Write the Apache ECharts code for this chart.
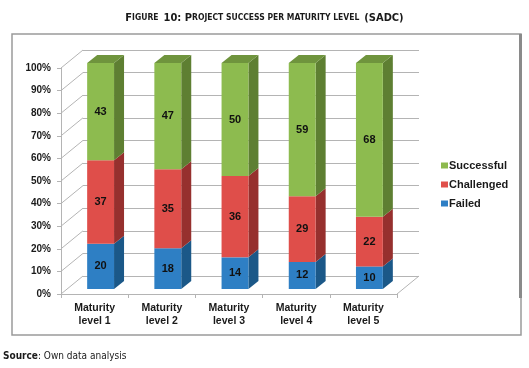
<!DOCTYPE html>
<html>
<head>
<meta charset="utf-8">
<script src="https://cdn.jsdelivr.net/npm/echarts@6/dist/echarts.min.js"></script>
<style>html,body{margin:0;padding:0;background:#fff;}#c{width:529px;height:368px;}</style>
</head>
<body>
<div id="c"></div>
<script>
// ---- data ----
const categories = ['Maturity\nlevel 1', 'Maturity\nlevel 2', 'Maturity\nlevel 3', 'Maturity\nlevel 4', 'Maturity\nlevel 5'];
const failed = [20, 18, 14, 12, 10];
const challenged = [37, 35, 36, 29, 22];
const successful = [43, 47, 50, 59, 68];
const yTicks = [0, 10, 20, 30, 40, 50, 60, 70, 80, 90, 100];
const seriesNames = ['Failed', 'Challenged', 'Successful'];

// ---- style ----
const FONT = '"Liberation Sans", Arial, sans-serif';
const NARROW = '"Liberation Sans Narrow", "Arial Narrow", "DejaVu Sans Condensed", "Liberation Sans", sans-serif';
const WALL_DX = 22, WALL_DY = -18;     // depth of the 3D box
const BAR_OFF_X = 6, BAR_OFF_Y = -5;   // bar position in depth
const BAR_DX = 10, BAR_DY = -8;        // bar depth
const BAR_FRAC = 0.40;
const colors = {
  Failed:     { front: '#2E7FC4', side: '#1B5888', top: '#2468A3', legend: '#2E7FC5' },
  Challenged: { front: '#DF4E4A', side: '#96302E', top: '#B83C39', legend: '#E0504B' },
  Successful: { front: '#8DBB4F', side: '#5E7F32', top: '#6F943D', legend: '#8DB94E' }
};

const values = { Failed: failed, Challenged: challenged, Successful: successful };
const bases = { Failed: [], Challenged: [], Successful: [] };
categories.forEach((c, i) => {
  let acc = 0;
  seriesNames.forEach(n => { bases[n][i] = acc; acc += values[n][i]; });
});

function barRender(name, drawTop) {
  const col = colors[name];
  return function (params, api) {
    const i = api.value(0), base = api.value(1), val = api.value(2);
    const pb = api.coord([i, base]);
    const pt = api.coord([i, base + val]);
    const bw = api.size([1, 0])[0] * BAR_FRAC;
    const x0 = pb[0] - bw / 2 + BAR_OFF_X, x1 = x0 + bw;
    const yb = pb[1] + BAR_OFF_Y, yt = pt[1] + BAR_OFF_Y;
    const children = [
      { type: 'polygon', shape: { points: [[x1, yb], [x1 + BAR_DX, yb + BAR_DY], [x1 + BAR_DX, yt + BAR_DY], [x1, yt]] }, style: { fill: col.side } },
      { type: 'rect', shape: { x: x0, y: yt, width: bw, height: yb - yt }, style: { fill: col.front } }
    ];
    if (drawTop) {
      children.push({ type: 'polygon', shape: { points: [[x0, yt], [x1, yt], [x1 + BAR_DX, yt + BAR_DY], [x0 + BAR_DX, yt + BAR_DY]] }, style: { fill: col.top } });
    }
    children.push({ type: 'text', style: { text: String(val), x: (x0 + x1) / 2, y: (yb + yt) / 2, align: 'center', verticalAlign: 'middle', fill: '#111', font: 'bold 11px ' + FONT } });
    return { type: 'group', children };
  };
}

function wallRender(params, api) {
  const v = api.value(0);
  const p = api.coord([0, v]);
  const cw = api.size([1, 0])[0];
  const xl = p[0] - cw / 2;
  const children = [
    { type: 'line', shape: { x1: xl, y1: p[1], x2: xl + WALL_DX, y2: p[1] + WALL_DY }, style: { stroke: '#b4b4b4', lineWidth: 1 } }
  ];
  if (v === 0) {
    const pr = api.coord([categories.length - 1, v]);
    const xr = pr[0] + cw / 2;
    children.push({ type: 'line', shape: { x1: xr, y1: p[1], x2: xr + WALL_DX, y2: p[1] + WALL_DY }, style: { stroke: '#b4b4b4', lineWidth: 1 } });
  }
  return { type: 'group', children };
}

const chart = echarts.init(document.getElementById('c'), null, { renderer: 'canvas' });

const gridFront = { left: 61, right: 132, top: 68, bottom: 74 };
const gridBack = { left: 61 + WALL_DX, right: 132 - WALL_DX, top: 68 + WALL_DY, bottom: 74 - WALL_DY };

const barSeries = seriesNames.map((n, k) => ({
  name: n,
  type: 'custom',
  xAxisIndex: 0, yAxisIndex: 0,
  itemStyle: { color: colors[n].legend },
  encode: { x: 0, y: 2 },
  renderItem: barRender(n, k === seriesNames.length - 1),
  data: categories.map((c, i) => [i, bases[n][i], values[n][i]]),
  z: 10 + k
}));

chart.setOption({
  animation: false,
  title: {
    text: '{b|F}{s|IGURE} {b|10: P}{s|ROJECT SUCCESS PER MATURITY LEVEL} {b|(SADC)}',
    left: 'center', top: 4,
    textStyle: {
      rich: {
        b: { fontSize: 11, fontWeight: 'bold', fontFamily: NARROW, color: '#1a1a1a' },
        s: { fontSize: 8.5, fontWeight: 'bold', fontFamily: NARROW, color: '#1a1a1a' }
      }
    }
  },
  legend: {
    orient: 'vertical', left: 436, top: 155,
    data: ['Successful', 'Challenged', 'Failed'],
    icon: 'rect', itemWidth: 7, itemHeight: 6, itemGap: 8,
    textStyle: { fontFamily: FONT, fontWeight: 'bold', fontSize: 11, color: '#1a1a1a', padding: [0, 0, 0, -4] }
  },
  grid: [
    Object.assign({}, gridFront),
    Object.assign({}, gridBack)
  ],
  xAxis: [
    {
      type: 'category', gridIndex: 0, data: categories,
      axisLine: { show: true, lineStyle: { color: '#b4b4b4' } },
      axisTick: { show: true, length: 4, lineStyle: { color: '#b4b4b4' } },
      axisLabel: { fontFamily: FONT, fontWeight: 'bold', fontSize: 10.5, color: '#1a1a1a', lineHeight: 13, margin: 8 }
    },
    { type: 'category', gridIndex: 1, data: categories, show: false }
  ],
  yAxis: [
    {
      type: 'value', gridIndex: 0, min: 0, max: 100, interval: 10,
      axisLine: { show: true, lineStyle: { color: '#b4b4b4' } },
      axisTick: { show: true, length: 4, lineStyle: { color: '#b4b4b4' } },
      splitLine: { show: false },
      axisLabel: { formatter: '{value}%', fontFamily: FONT, fontWeight: 'bold', fontSize: 10, color: '#1a1a1a', margin: 10 }
    },
    {
      type: 'value', gridIndex: 1, min: 0, max: 100, interval: 10,
      axisLine: { show: false }, axisTick: { show: false }, axisLabel: { show: false },
      splitLine: { show: true, lineStyle: { color: '#b4b4b4', width: 1 } }
    }
  ],
  graphic: [
    { type: 'rect', shape: { x: 12, y: 34, width: 509, height: 301 }, style: { fill: 'none', stroke: '#9a9a9a', lineWidth: 1.5 }, silent: true, z: 0 },
    { type: 'rect', shape: { x: 519, y: 34, width: 3, height: 264 }, style: { fill: '#8a8a8a' }, silent: true, z: 0 },
    {
      type: 'text', left: 3, top: 351, silent: true,
      style: {
        text: '{b|Source}{r|: Own data analysis}',
        rich: {
          b: { fontFamily: NARROW, fontWeight: 'bold', fontSize: 10, fill: '#1a1a1a' },
          r: { fontFamily: NARROW, fontSize: 10, fill: '#1a1a1a' }
        }
      }
    }
  ],
  series: [
    {
      type: 'custom', name: 'walls', xAxisIndex: 0, yAxisIndex: 0,
      renderItem: wallRender, encode: { y: 0 },
      data: yTicks.map(v => [v]), silent: true, z: 1
    }
  ].concat(barSeries)
});
</script>
</body>
</html>
